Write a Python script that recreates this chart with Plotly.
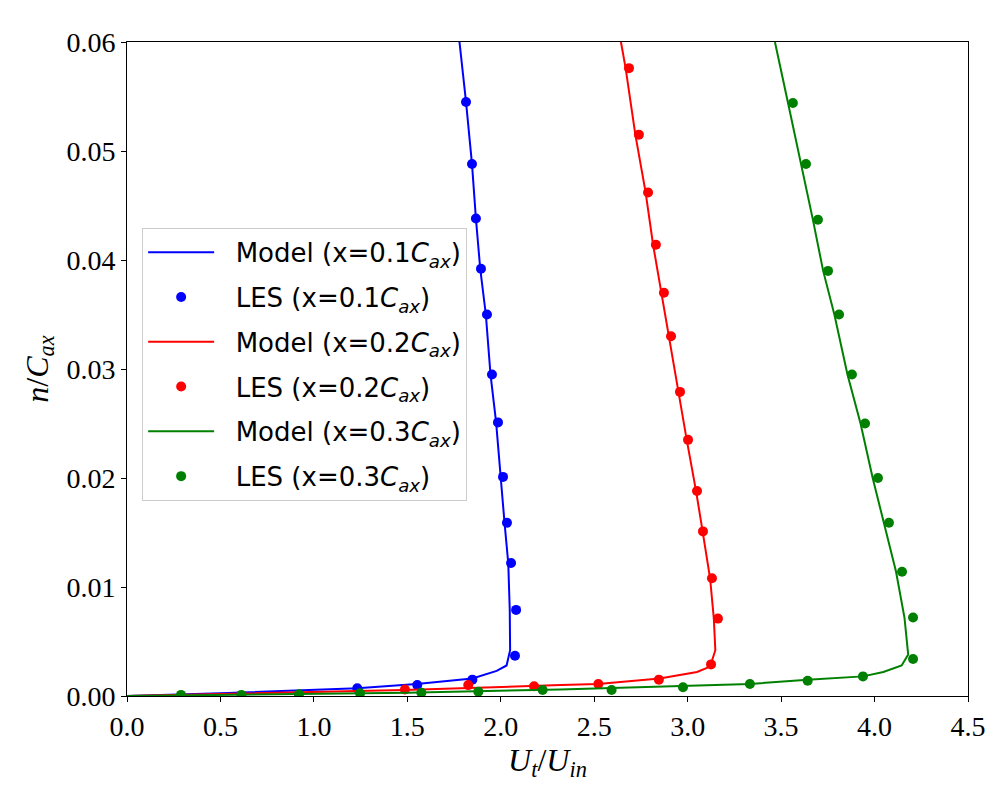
import plotly.graph_objects as go

# model profiles (U_t/U_in, n/C_ax)
model1_u = [0.0, 0.5, 1.232, 1.55, 1.848, 1.978, 2.031, 2.05, 2.048, 2.04, 2.02, 2.0, 1.975,
            1.945, 1.92, 1.89, 1.867, 1.846, 1.814, 1.779]
model1_n = [0.0, 0.00025, 0.0007, 0.0011, 0.0016, 0.0023, 0.0028, 0.0042, 0.0079, 0.0122, 0.0159,
            0.0201, 0.0251, 0.0295, 0.035, 0.0392, 0.0438, 0.0488, 0.0545, 0.06]
model2_u = [0.0, 1.48, 2.32, 2.52, 2.85, 3.05, 3.12, 3.148, 3.14, 3.12, 3.08, 3.045, 2.995,
            2.95, 2.90, 2.86, 2.815, 2.775, 2.72, 2.668, 2.643]
model2_n = [0.0, 0.00055, 0.0010, 0.0011, 0.0016, 0.0022, 0.0027, 0.0042, 0.0071, 0.0108, 0.0151,
            0.0188, 0.0235, 0.0279, 0.033, 0.037, 0.0414, 0.0462, 0.0515, 0.0576, 0.06]
model3_u = [0.0, 1.5, 2.317, 2.975, 3.333, 3.642, 3.938, 4.047, 4.145, 4.18, 4.16, 4.115, 4.05,
            3.99, 3.925, 3.855, 3.785, 3.725, 3.67, 3.605, 3.537, 3.467]
model3_n = [0.0, 0.0003, 0.0006, 0.0009, 0.0011, 0.0015, 0.0018, 0.0022, 0.0028, 0.0038, 0.0072,
            0.0114, 0.0159, 0.02, 0.025, 0.0295, 0.035, 0.039, 0.0437, 0.0488, 0.0544, 0.06]

# LES data
les1_u = [1.232, 1.553, 1.848, 2.076, 2.082, 2.055, 2.033, 2.012, 1.985, 1.953, 1.926, 1.894,
          1.867, 1.846, 1.814]
les1_n = [0.0007, 0.0010, 0.0015, 0.0037, 0.0079, 0.0122, 0.0159, 0.0201, 0.0251, 0.0295, 0.0350,
          0.0392, 0.0438, 0.0488, 0.0545]
les2_u = [1.487, 1.826, 2.178, 2.522, 2.846, 3.125, 3.162, 3.130, 3.082, 3.050, 3.002, 2.959,
          2.911, 2.873, 2.830, 2.788, 2.739, 2.686]
les2_n = [0.0006, 0.0010, 0.0009, 0.0011, 0.0015, 0.0029, 0.0071, 0.0108, 0.0151, 0.0188, 0.0235,
          0.0279, 0.0330, 0.0370, 0.0414, 0.0462, 0.0515, 0.0576]
les3_u = [0.289, 0.612, 0.920, 1.247, 1.575, 1.880, 2.224, 2.593, 2.975, 3.333, 3.642, 3.938,
          4.206, 4.206, 4.147, 4.077, 4.018, 3.949, 3.879, 3.810, 3.751, 3.697, 3.633, 3.563]
les3_n = [0.0001, 0.0001, 0.00015, 0.00025, 0.0003, 0.0004, 0.00055, 0.00055, 0.0008, 0.0011,
          0.0014, 0.0018, 0.0034, 0.0072, 0.0114, 0.0159, 0.0200, 0.0250, 0.0295, 0.0350, 0.0390,
          0.0437, 0.0488, 0.0544]

cax = "<i>C</i><sub><i>ax</i></sub>"
pad = "&nbsp;&nbsp;"
series = [
    (pad + "Model (x=0.1" + cax + ")", model1_u, model1_n, "lines", "#0000ff"),
    (pad + "LES (x=0.1" + cax + ")", les1_u, les1_n, "markers", "#0000ff"),
    (pad + "Model (x=0.2" + cax + ")", model2_u, model2_n, "lines", "#ff0000"),
    (pad + "LES (x=0.2" + cax + ")", les2_u, les2_n, "markers", "#ff0000"),
    (pad + "Model (x=0.3" + cax + ")", model3_u, model3_n, "lines", "#008000"),
    (pad + "LES (x=0.3" + cax + ")", les3_u, les3_n, "markers", "#008000"),
]

fig = go.Figure()
for i, (name, u, n, mode, col) in enumerate(series):
    fig.add_trace(go.Scatter(
        x=u, y=n, mode=mode, name=name, legendgroup=str(i),
        line=dict(color=col, width=2),
        marker=dict(color=col, size=10),
    ))

axis_common = dict(
    showline=True, linecolor="black", linewidth=1, mirror=True,
    ticks="outside", ticklen=5, tickcolor="black", showgrid=False, zeroline=False,
    tickfont=dict(family="Liberation Serif", size=28, color="black"),
)

fig.update_layout(
    width=1000, height=800,
    paper_bgcolor="white", plot_bgcolor="white",
    margin=dict(l=119, r=40, t=34, b=112),
    xaxis=dict(range=[0, 4.5], dtick=0.5, tickformat=".1f",
               title=dict(text="<i>U</i><sub><i>t</i></sub>/<i>U</i><sub><i>in</i></sub>",
                          font=dict(family="Liberation Serif", size=32, color="black"),
                          standoff=4),
               **axis_common),
    yaxis=dict(range=[0, 0.06], dtick=0.01, tickformat=".2f",
               title=dict(text="<i>n</i>/<i>C</i><sub><i>ax</i></sub>",
                          font=dict(family="Liberation Serif", size=32, color="black"),
                          standoff=8),
               **axis_common),
    legend=dict(
        x=0.018, y=0.716, xanchor="left", yanchor="top",
        bgcolor="rgba(255,255,255,0.8)", bordercolor="#cccccc", borderwidth=1,
        font=dict(family="DejaVu Sans", size=26, color="black"),
        traceorder="grouped", tracegroupgap=8, itemwidth=66,
    ),
    showlegend=True,
)

fig.write_html("out.html")
